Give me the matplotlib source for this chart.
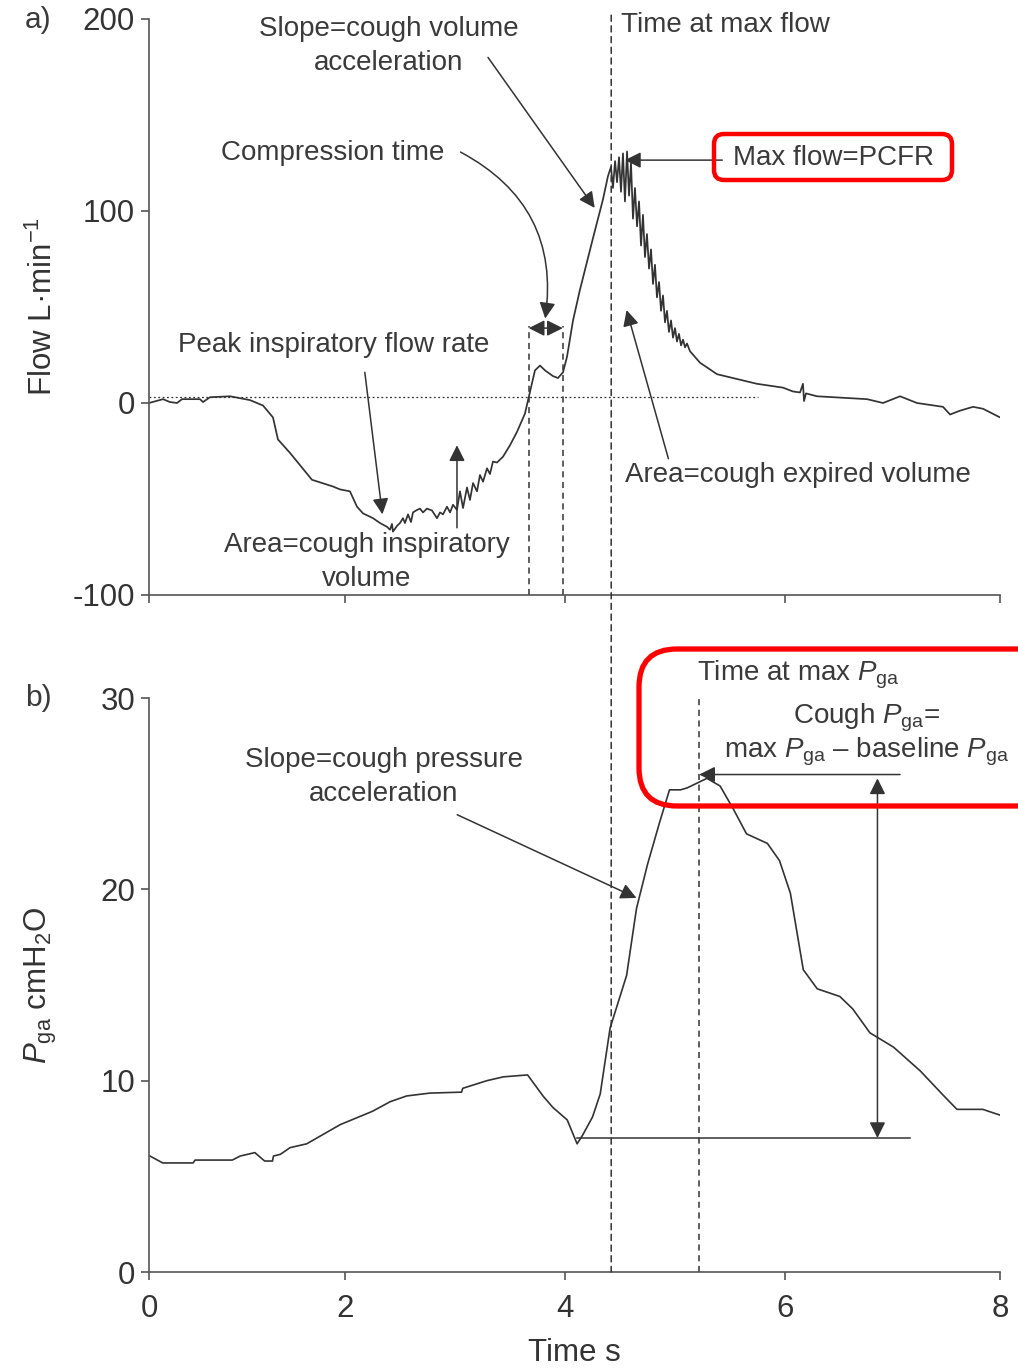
import numpy as np
import matplotlib
matplotlib.use("Agg")
import matplotlib.pyplot as plt
from matplotlib.patches import FancyBboxPatch, ConnectionPatch

# ---------------- data ----------------
x_ticks = [0, 2, 4, 6, 8]
flow_ticks = [-100, 0, 100, 200]
pga_ticks = [0, 10, 20, 30]

flow_t = [0.0, 0.143, 0.214, 0.286, 0.337, 0.52, 0.551, 0.622, 0.827, 1.031, 1.163, 1.265,
          1.316, 1.439, 1.663, 1.878, 1.949, 2.045, 2.109, 2.164, 2.255, 2.318, 2.382, 2.409,
          2.427, 2.436, 2.473, 2.5, 2.527, 2.545, 2.573, 2.6, 2.618, 2.655, 2.682, 2.709,
          2.745, 2.791, 2.836, 2.864, 2.891, 2.927, 2.955, 2.982, 3.018, 3.045, 3.073, 3.109,
          3.136, 3.164, 3.2, 3.227, 3.255, 3.291, 3.318, 3.345, 3.382, 3.436, 3.5, 3.564,
          3.636, 3.682, 3.727, 3.773, 3.818, 3.891, 3.936, 3.982, 4.018, 4.073, 4.136, 4.255,
          4.345, 4.39, 4.418, 4.436, 4.455, 4.473, 4.491, 4.509, 4.527, 4.545, 4.564, 4.582,
          4.6, 4.618, 4.636, 4.655, 4.673, 4.691, 4.709, 4.727, 4.745, 4.764, 4.782, 4.8,
          4.818, 4.836, 4.855, 4.873, 4.891, 4.909, 4.927, 4.945, 4.964, 4.982, 5.0, 5.018,
          5.036, 5.055, 5.073, 5.091, 5.109, 5.136, 5.227, 5.382, 5.527, 5.745, 5.982, 6.074,
          6.14, 6.167, 6.177, 6.195, 6.298, 6.763, 6.912, 7.07, 7.228, 7.47, 7.535, 7.628,
          7.749, 7.842, 8.0]
flow_v = [0, 2, 0.5, 0, 2, 2, 0.5, 3, 3.5, 1.5, -1.3, -7.5,
          -19, -26, -40, -43.5, -45, -46, -54, -57.5, -60, -62.5, -64.5, -66,
          -63, -67, -64, -62.5, -60, -62.5, -58, -62, -57, -55.7, -55, -57,
          -55, -56, -60, -57, -58, -54, -57, -53, -55.7, -46, -54.7, -44,
          -50.5, -41.7, -46, -37.5, -41, -34, -37, -30.5, -31, -28, -22, -15,
          -5.5, 6, 17, 19.5, 17, 14, 13, 16, 24, 43, 59, 86,
          106, 118, 123, 112, 126, 115, 128, 110, 130, 105, 131, 108,
          125, 96, 112, 92, 105, 82, 98, 76, 88, 70, 80, 62,
          72, 55, 63, 48, 56, 42, 48, 37, 43, 34, 39, 32,
          36, 30, 33, 29, 31, 27, 21, 15, 13, 10, 8, 6,
          5.5, 10, 1, 5, 3.5, 2, 0, 3.5, 0, -2, -6, -4,
          -2, -3, -7.5]

pga_t = [0.01, 0.14, 0.45, 0.47, 0.85, 0.93, 1.08, 1.18, 1.26, 1.27, 1.34, 1.44, 1.61,
         1.95, 2.25, 2.41, 2.56, 2.77, 3.06, 3.07, 3.29, 3.44, 3.66, 3.8, 3.89, 4.02,
         4.11, 4.16, 4.25, 4.32, 4.41, 4.56, 4.65, 4.75, 4.86, 4.95, 5.05, 5.11, 5.29,
         5.41, 5.53, 5.65, 5.84, 5.95, 6.05, 6.17, 6.3, 6.51, 6.63, 6.79, 7.01, 7.26,
         7.47, 7.6, 7.84, 8.0]
pga_v = [6.06, 5.7, 5.7, 5.85, 5.85, 6.06, 6.24, 5.8, 5.8, 6.06, 6.15, 6.5, 6.7,
         7.7, 8.4, 8.9, 9.2, 9.35, 9.4, 9.6, 10.0, 10.2, 10.3, 9.2, 8.6, 7.95,
         6.7, 7.15, 8.1, 9.3, 12.75, 15.5, 19.0, 21.3, 23.5, 25.2, 25.2, 25.3, 25.8,
         25.4, 24.2, 22.9, 22.4, 21.5, 19.8, 15.8, 14.8, 14.4, 13.75, 12.5, 11.75, 10.5,
         9.25, 8.5, 8.5, 8.2]

t_max_flow = 4.42
t_max_pga = 5.22
t_comp = [3.67, 3.98]
pga_max = 26.0
pga_baseline = 7.0

# ---------------- style ----------------
plt.rcParams["font.family"] = ["Liberation Sans", "DejaVu Sans"]
plt.rcParams["mathtext.fontset"] = "custom"
plt.rcParams["mathtext.rm"] = "Liberation Sans"
plt.rcParams["mathtext.it"] = "Liberation Sans:italic"
LC = "#333333"
SP = "#555555"
TXT = "#3a3a3a"
FS = 20
TFS = 22.5

# the original time axis has uneven tick spacing
tick_pos = [0, 196, 416, 636, 851]


def fwd(t):
    t = np.asarray(t, dtype=float)
    y = np.interp(t, x_ticks, tick_pos)
    y = np.where(t < 0, t * 98.0, y)
    y = np.where(t > 8, 851 + (t - 8) * 107.5, y)
    return y


def inv(p):
    p = np.asarray(p, dtype=float)
    y = np.interp(p, tick_pos, x_ticks)
    y = np.where(p < 0, p / 98.0, y)
    y = np.where(p > 851, 8 + (p - 851) / 107.5, y)
    return y


W, H = 1018, 1369
fig = plt.figure(figsize=(W / 100, H / 100), dpi=100)
ax1 = fig.add_axes([149 / W, 1 - 595 / H, 851 / W, 576 / H])
ax2 = fig.add_axes([149 / W, 1 - 1272 / H, 851 / W, 574 / H])

for ax in (ax1, ax2):
    ax.set_xscale("function", functions=(fwd, inv))
    ax.set_xlim(0, 8)
    ax.set_xticks(x_ticks)
    for s in ("top", "right"):
        ax.spines[s].set_visible(False)
    for s in ("left", "bottom"):
        ax.spines[s].set_color(SP)
        ax.spines[s].set_linewidth(1.2)
    ax.tick_params(direction="out", length=6, width=1.2, color=SP,
                   labelsize=TFS, labelcolor=LC)
    ax.tick_params(axis="y", pad=4)
    ax.tick_params(axis="x", pad=10)
    ax.patch.set_alpha(0)

ax1.set_ylim(-100, 200)
ax1.set_yticks(flow_ticks)
ax1.set_yticklabels([str(v) for v in flow_ticks])
ax1.tick_params(axis="x", labelbottom=False)
ax2.set_ylim(0, 30)
ax2.set_yticks(pga_ticks)

ax1.plot(flow_t, flow_v, color=LC, lw=1.25)
ax2.plot(pga_t, pga_v, color=LC, lw=1.2)

ax1.set_ylabel("Flow L·min$^{-1}$", fontsize=TFS, color=LC)
ax1.yaxis.set_label_coords(-0.106, 0.5)
ax2.set_ylabel(r"$P_{\mathrm{ga}}$ cmH$_2$O", fontsize=TFS, color=LC)
ax2.yaxis.set_label_coords(-0.106, 0.5)
ax2.set_xlabel("Time s", fontsize=TFS, color=LC, labelpad=10)

# reference lines
dash = (0, (4, 3))
ax1.axhline(3, xmin=0, xmax=fwd(5.75) / 851, color=LC, lw=0.9, ls=(0, (1.5, 2)))
for tc in t_comp:
    ax1.plot([tc, tc], [-100, 40], color=LC, lw=1.1, ls=dash)
con = ConnectionPatch(xyA=(t_max_flow, 202), coordsA=ax1.transData,
                      xyB=(t_max_flow, 0), coordsB=ax2.transData,
                      color=LC, lw=1.1, ls=dash)
fig.add_artist(con)
ax2.plot([t_max_pga, t_max_pga], [0, 30], color=LC, lw=1.1, ls=dash)
ax2.plot([4.11, 7.16], [pga_baseline, pga_baseline], color=LC, lw=1.1)

ap = dict(arrowstyle="-|>", mutation_scale=24, lw=1.1, color=LC,
          shrinkA=0, shrinkB=0)


def arrow(ax, tip, tail, **kw):
    p = dict(ap)
    p.update(kw)
    ax.annotate("", xy=tip, xytext=tail, arrowprops=p)


# panel a arrows
arrow(ax1, (4.27, 101.6), (3.30, 180))
arrow(ax1, (3.82, 44), (3.05, 130.7), connectionstyle="arc3,rad=-0.35")
arrow(ax1, (3.67, 39), (3.98, 39), arrowstyle="<|-|>")
arrow(ax1, (2.34, -58), (2.18, 16))
arrow(ax1, (3.018, -22), (3.018, -65))
arrow(ax1, (4.56, 48.4), (4.94, -29))
arrow(ax1, (4.545, 126.5), (5.43, 126.5))

# panel b arrows
arrow(ax2, (4.65, 19.55), (3.02, 23.9))
arrow(ax2, (t_max_pga, pga_max), (7.07, pga_max))
arrow(ax2, (6.86, 25.8), (6.86, pga_baseline), arrowstyle="<|-|>")


def T(px, py, s, ha="center", fs=FS, **kw):
    fig.text(px / W, 1 - py / H, s, ha=ha, va="center", fontsize=fs, color=TXT,
             linespacing=1.42, **kw)


T(38, 20, "a)", fs=21.5)
T(38, 698, "b)", fs=21.5)
T(389, 46, "Slope=cough volume\nacceleration")
T(333, 153, "Compression time")
T(334, 345, "Peak inspiratory flow rate")
T(367, 562, "Area=cough inspiratory\nvolume")
T(621, 25, "Time at max flow", ha="left")
T(733, 158, "Max flow=PCFR", ha="left")
T(625, 475, "Area=cough expired volume", ha="left")
T(384, 777, "Slope=cough pressure\nacceleration")
T(697, 675, r"Time at max $P_{\mathrm{ga}}$", ha="left")
T(867, 718, r"Cough $P_{\mathrm{ga}}$=")
T(867, 752, r"max $P_{\mathrm{ga}}$ – baseline $P_{\mathrm{ga}}$")

# red highlight boxes (in inches, from pixel geometry)
def red_box(x0, y0, x1, y1, r, lw):
    b = FancyBboxPatch((x0 / 100, (H - y1) / 100), (x1 - x0) / 100, (y1 - y0) / 100,
                       boxstyle=f"round,pad=0,rounding_size={r / 100}",
                       transform=fig.dpi_scale_trans, fill=False,
                       edgecolor="#ff0000", lw=lw, clip_on=False)
    fig.add_artist(b)


red_box(714, 134, 952, 180, 10, 3.2)
red_box(639, 649, 1060, 806, 38, 3.8)

fig.savefig("out.png", dpi=100)
